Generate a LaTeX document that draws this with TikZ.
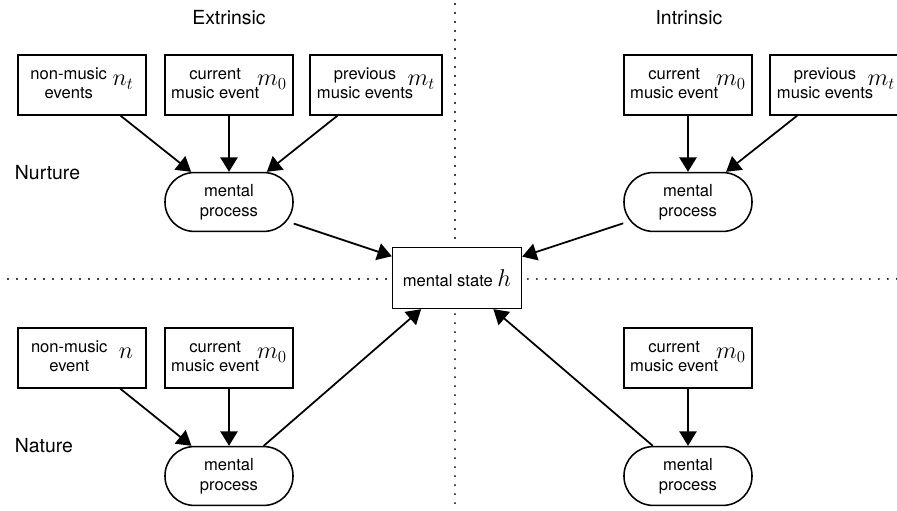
\documentclass[tikz,border=0pt]{standalone}
\usepackage{fontspec}
\setmainfont{TeX Gyre Heros}
\usepackage{amsmath}
\usetikzlibrary{arrows.meta,positioning}
\newcommand{\evfont}{\fontsize{11.8}{14}\selectfont}
\newcommand{\evlbl}[4]{\begin{tabular}{@{}c@{}}#1\\#2\end{tabular}\kern#4\raisebox{2.5pt}{\LARGE$#3$}}
\tikzset{
  evbox/.style={draw,line width=1.1pt,align=center,minimum width=3.2cm,minimum height=1.5cm,inner sep=1pt,font=\evfont},
  procbox/.style={draw,line width=1.1pt,rounded corners=7.3mm,align=center,minimum width=3.2cm,minimum height=1.47cm,font=\evfont},
  statebox/.style={draw,line width=1.1pt,minimum width=3.22cm,minimum height=1.52cm,inner sep=2pt,font=\evfont},
  evarrow/.style={-{Triangle[length=3.6mm,width=4.3mm]},line width=1.25pt},
  divider/.style={line width=1.5pt,line cap=round,dash pattern=on 0pt off 6.4pt},
  quadlabel/.style={font=\fontsize{13.8}{16}\selectfont}
}

\begin{document}
\begin{tikzpicture}[x=0.025cm,y=-0.025cm]
\useasboundingbox (0,0) rectangle (897,511);
% quadrant titles
\node[quadlabel] (extr) at (229,18) {Extrinsic};
\node[quadlabel] (intr) at (689,18) {Intrinsic};
\node[quadlabel,anchor=west] (nurt) at (10,173) {Nurture};
\node[quadlabel,anchor=west] (natu) at (10,446) {Nature};
% centre
\node[statebox] (state) at (457,278) {mental state {\LARGE$h$}};
\coordinate (vtop) at (455,4);
\coordinate (vbot) at (455,511);
\coordinate (hleft) at (8,279);
\coordinate (hright) at (897,279);
\draw[divider] (vtop) -- (vtop |- state.north);
\draw[divider] (vbot |- state.south) ++(0,5) -- (vbot);
\draw[divider] (hleft) -- ([xshift=-4pt]state.west |- hleft);
\draw[divider] ([xshift=4pt]state.east |- hright) -- (hright);
% nurture / extrinsic
\node[evbox] (exNoMus) at (82,85) {\evlbl{non-music}{events}{n_t}{4pt}};
\node[evbox] (exCur) at (229,85) {\evlbl{current}{music event}{m_0}{-1.5pt}};
\node[evbox,minimum width=3.3cm] (exPrev) at (376,85) {\evlbl{previous}{music events}{m_t}{-4pt}};
\node[procbox] (exProc) at (229,202) {mental\\process};
\draw[evarrow] (exNoMus) -- (exProc);
\draw[evarrow] (exCur) -- (exProc);
\draw[evarrow] (exPrev) -- (exProc);
\draw[evarrow] (exProc) -- (state);
% nurture / intrinsic
\node[evbox] (inCur) at (688,85) {\evlbl{current}{music event}{m_0}{-1.5pt}};
\node[evbox,minimum width=3.3cm] (inPrev) at (836,85) {\evlbl{previous}{music events}{m_t}{-4pt}};
\node[procbox] (inProc) at (688,202) {mental\\process};
\draw[evarrow] (inCur) -- (inProc);
\draw[evarrow] (inPrev) -- (inProc);
\draw[evarrow] (inProc) -- (state);
% nature / extrinsic
\node[evbox] (naNoMus) at (82,358) {\evlbl{non-music}{event}{n}{8pt}};
\node[evbox] (naCur) at (229,358) {\evlbl{current}{music event}{m_0}{-1.5pt}};
\node[procbox] (naProc) at (229,476) {mental\\process};
\draw[evarrow] (naNoMus) -- (naProc);
\draw[evarrow] (naCur) -- (naProc);
\draw[evarrow] (naProc) -- (state);
% nature / intrinsic
\node[evbox] (niCur) at (688,358) {\evlbl{current}{music event}{m_0}{-1.5pt}};
\node[procbox] (niProc) at (688,476) {mental\\process};
\draw[evarrow] (niCur) -- (niProc);
\draw[evarrow] (niProc) -- (state);
\end{tikzpicture}
\end{document}
